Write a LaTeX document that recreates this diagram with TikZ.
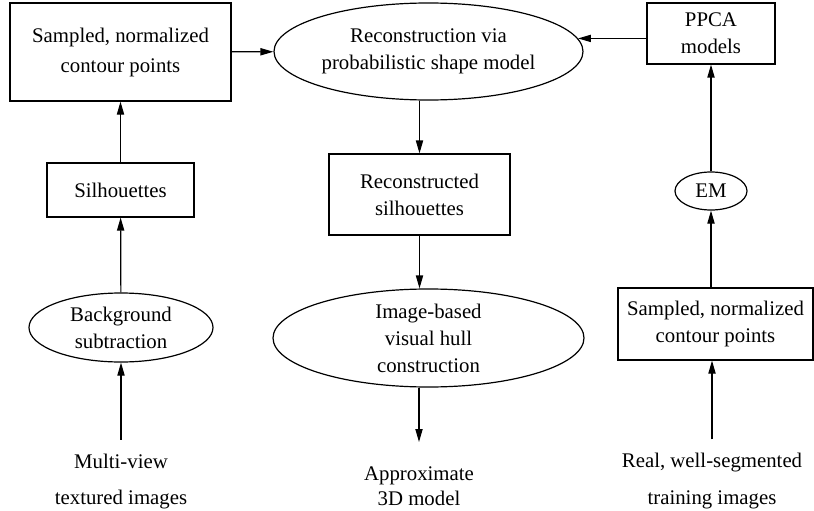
\documentclass[tikz,border=0pt]{standalone}
\usepackage{fontspec}
\setmainfont{Liberation Serif}
\usetikzlibrary{shapes.geometric,arrows.meta}

\begin{document}
\begin{tikzpicture}[x=1pt,y=1pt,font=\fontsize{10.4}{13.5}\selectfont,
        box/.style={draw,line width=0.6pt,inner sep=0pt,align=center},
        oval/.style={draw,ellipse,line width=0.6pt,inner sep=0pt,align=center},
        txt/.style={inner xsep=0pt,align=center},
        flow/.style={line width=0.6pt,-{Triangle[length=6.5pt,width=3.6pt]}}]
            \useasboundingbox (0,0) rectangle (407,255);

            \node[box,minimum width=110.5,minimum height=49,font=\fontsize{10.4}{15}\selectfont] (pts) at (60.25,229) {Sampled, normalized\\contour points};
            \node[box,minimum width=73.5,minimum height=27] (sil) at (60.25,160) {Silhouettes};
            \node[oval,minimum width=92,minimum height=34.5] (bg) at (60.5,91.25) {Background\\subtraction};
            \node[txt,inner ysep=6.9pt,font=\fontsize{10.4}{18}\selectfont] (multi) at (60.5,14.4) {Multi-view\\textured images};

            \node[oval,minimum width=154.5,minimum height=48.5] (recon) at (214.25,229.25) {Reconstruction via\\probabilistic shape model};
            \node[box,minimum width=90.5,minimum height=40.5] (rsil) at (209.75,157.75) {Reconstructed\\silhouettes};
            \node[oval,inner ysep=-2pt,minimum width=155.5,minimum height=49] (hull) at (214.25,86) {Image-based\\visual hull\\construction};
            \node[txt,inner ysep=12.05pt,font=\fontsize{10.4}{12.5}\selectfont] (approx) at (209.5,12) {Approximate\\3D model};

            \node[box,minimum width=64,minimum height=30.5] (ppca) at (355.5,238.25) {PPCA\\models};
            \node[oval,minimum width=36,minimum height=19] (em) at (355.5,159.5) {EM};
            \node[box,minimum width=97.5,minimum height=36] (pts2) at (357.75,93) {Sampled, normalized\\contour points};
            \node[txt,inner ysep=6.5pt,font=\fontsize{10.4}{18.5}\selectfont] (real) at (356,14.6) {Real, well-segmented\\training images};

            \draw[flow] (multi) -- (bg);
            \draw[flow] (bg) -- (sil);
            \draw[flow] (sil) -- (pts);
            \draw[flow] (pts) -- (recon);

            \draw[flow] (recon.south -| rsil) -- (rsil);
            \draw[flow] (rsil) -- (rsil |- hull.north);
            \draw[flow] (hull.south -| approx) -- (approx);

            \draw[flow] (real) -- (real |- pts2.south);
            \draw[flow] (pts2.north -| em) -- (em);
            \draw[flow] (em) -- (ppca);
            \draw[flow] (ppca.west |- recon.5) -- (recon.5);
        \end{tikzpicture}
\end{document}
